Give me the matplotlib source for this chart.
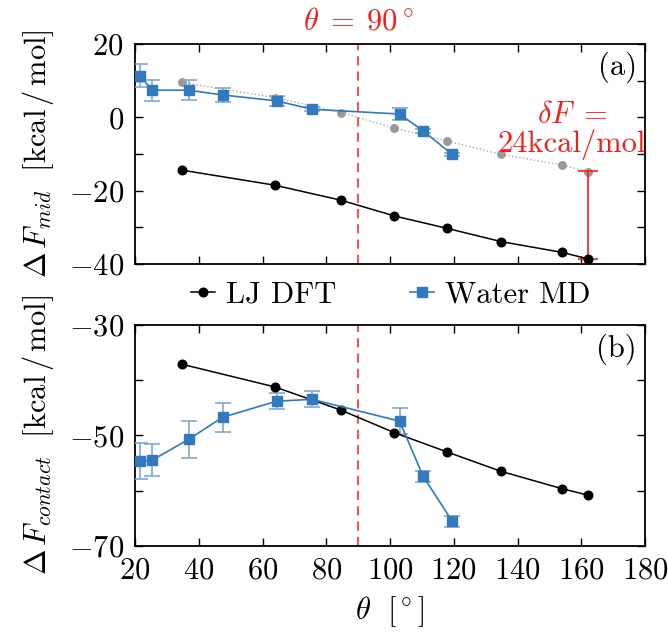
import numpy as np
import matplotlib
matplotlib.use("Agg")
import matplotlib.pyplot as plt
from matplotlib.ticker import MultipleLocator, FuncFormatter

plt.rcParams['font.family'] = 'serif'
plt.rcParams['font.serif'] = ['cmr10']
plt.rcParams['mathtext.fontset'] = 'cm'
plt.rcParams['axes.formatter.use_mathtext'] = True
plt.rcParams['font.size'] = 22

# contact angles (deg)
theta_dft = [34.7, 63.8, 84.6, 101.4, 118.0, 134.9, 153.8, 162.1]
theta_md = [21.6, 25.3, 36.8, 47.5, 64.4, 75.5, 103.0, 110.4, 119.5]

# free energies at mid separation (kcal/mol)
mid_dft = [-14.4, -18.5, -22.6, -26.9, -30.3, -33.9, -36.8, -38.6]
mid_dft_shift = [9.5, 5.4, 1.3, -2.9, -6.5, -10.1, -13.0, -14.8]
mid_md = [11.4, 7.4, 7.4, 6.1, 4.5, 2.2, 0.9, -3.7, -10.1]
mid_md_err = [3.2, 2.9, 2.8, 2.0, 1.4, 0.5, 1.7, 0.5, 0.5]

# free energies at contact (kcal/mol)
contact_dft = [-37.1, -41.2, -45.4, -49.5, -53.0, -56.5, -59.6, -60.8]
contact_md = [-54.6, -54.5, -50.7, -46.7, -43.8, -43.45, -47.4, -57.4, -65.5]
contact_md_err = [3.3, 2.9, 3.3, 2.65, 1.45, 1.45, 2.3, 1.0, 1.0]

delta_F = 24.0
theta_90 = 90

BLUE = '#3379be'
BLUE_ERR = '#7ea9d8'
RED = '#ff1a1a'

fig = plt.figure(figsize=(6.68, 6.34), dpi=100)
ax1 = fig.add_axes([0.2021, 0.5836, 0.7635, 0.347])
ax2 = fig.add_axes([0.2021, 0.1388, 0.7635, 0.3486])


def label_every_20(base):
    # label every second tick, starting from the top of the range
    def fmt(v, pos):
        iv = int(round(v))
        if (iv - base) % 20 != 0:
            return ''
        return r'$\mathdefault{%d}$' % iv if iv >= 0 else r'$\mathdefault{-%d}$' % -iv
    return FuncFormatter(fmt)


def style(ax, ylim):
    ax.set_xlim(20, 180)
    ax.set_ylim(*ylim)
    ax.xaxis.set_major_locator(MultipleLocator(20))
    ax.yaxis.set_major_locator(MultipleLocator(10))
    ax.yaxis.set_major_formatter(label_every_20(ylim[1]))
    ax.tick_params(direction='in', top=True, right=True, length=5.5, width=1.0, pad=8)
    for s in ax.spines.values():
        s.set_linewidth(1.3)
    ax.axvline(theta_90, color=RED, lw=1.1, dashes=(6, 4))


# panel (a)
ax1.plot(theta_dft, mid_dft_shift, ':', color='#aaaaaa', lw=1.0,
         marker='o', ms=5.4, mfc='#999999', mec='#999999', zorder=2)
ax1.errorbar(theta_md, mid_md, yerr=mid_md_err, fmt='none', ecolor=BLUE_ERR,
             elinewidth=1.2, capsize=6, capthick=1.2, zorder=3)
ax1.plot(theta_md, mid_md, '-s', color=BLUE, lw=1.2, ms=6.5, zorder=4)
ax1.plot(theta_dft, mid_dft, '-o', color='black', lw=1.1, ms=6.2, zorder=4)
ax1.errorbar([theta_dft[-1]], [mid_dft[-1] + delta_F / 2], yerr=[delta_F / 2],
             fmt='none', ecolor=RED, elinewidth=1.2, capsize=7, capthick=1.2, zorder=3)
style(ax1, (-40, 20))
ax1.tick_params(labelbottom=False)
ax1.set_ylabel(r'$\Delta\, F_{mid}\ \ [\mathrm{kcal}\,/\,\mathrm{mol}]$')
ax1.yaxis.set_label_coords(-0.155, 0.5)
ax1.text(0.984, 0.965, '(a)', transform=ax1.transAxes, ha='right', va='top')
ax1.text(theta_90, 1.04, r'$\theta\;=\;90^\circ$', color=RED, ha='center', va='bottom',
         transform=ax1.get_xaxis_transform())
ax1.text(157, -3.6, '$\\delta F\\;=$\n24kcal/mol', color=RED, ha='center', va='center',
         multialignment='center', linespacing=1.0)

# panel (b)
ax2.errorbar(theta_md, contact_md, yerr=contact_md_err, fmt='none', ecolor=BLUE_ERR,
             elinewidth=1.2, capsize=6, capthick=1.2, zorder=3)
ax2.plot(theta_dft, contact_dft, '-o', color='black', lw=1.1, ms=6.2, zorder=4,
         label='LJ DFT')
ax2.plot(theta_md, contact_md, '-s', color=BLUE, lw=1.2, ms=6.5, zorder=4,
         label='Water MD')
style(ax2, (-70, -30))
ax2.set_ylabel(r'$\Delta\, F_{contact}\ \ [\mathrm{kcal}\,/\,\mathrm{mol}]$')
ax2.yaxis.set_label_coords(-0.155, 0.5)
ax2.set_xlabel(r'$\theta\ \ [^\circ]$', labelpad=7)
ax2.text(0.984, 0.96, '(b)', transform=ax2.transAxes, ha='right', va='top')

fig.legend(*ax2.get_legend_handles_labels(), loc='center', ncol=2, frameon=False,
           bbox_to_anchor=(0.585, 0.535), handlelength=0.8, handletextpad=0.35,
           columnspacing=2.4, borderpad=0.1)

fig.savefig('out.png', dpi=100)
